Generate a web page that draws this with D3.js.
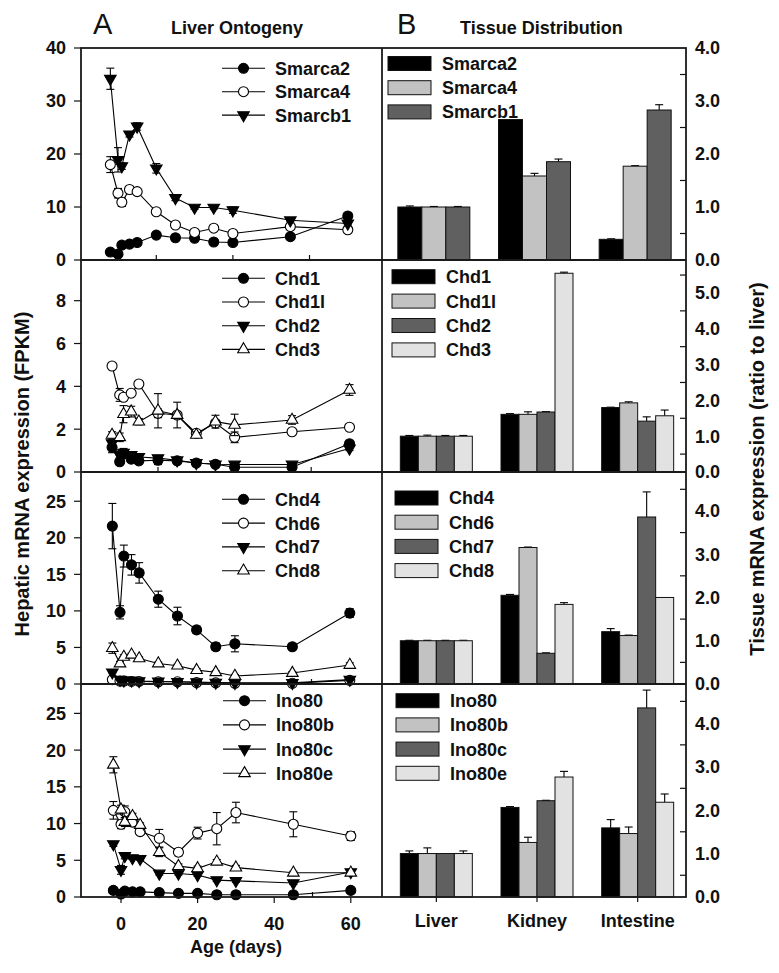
<!DOCTYPE html>
<html>
<head>
<meta charset="utf-8">
<script src="https://cdn.jsdelivr.net/npm/d3@7"></script>
<style>
  body { margin: 0; background: #fff; }
  text { font-family: Arial, "Liberation Sans", sans-serif; font-weight: bold; fill: #111; }
</style>
</head>
<body>
<div id="chart"></div>
<script>
// sampling days and tissues
const days = [-2, 0, 1, 3, 5, 10, 15, 20, 25, 30, 45, 60];
const tissues = ["Liver", "Kidney", "Intestine"];

// panel 1: SWI/SNF
const genes1 = ["Smarca2", "Smarca4", "Smarcb1"];
const ont1 = [
  [1.5, 1.1, 2.8, 3.0, 3.3, 4.7, 4.2, 4.1, 3.4, 3.3, 4.4, 8.3],
  [18.0, 12.6, 10.9, 13.3, 12.9, 9.1, 6.6, 5.2, 6.0, 5.0, 6.3, 5.7],
  [34.2, 18.9, 17.7, 23.7, 25.2, 17.3, 11.7, 9.9, 9.9, 9.4, 7.5, 6.9]
];
const ontErr1 = [
  [0.2, 0.2, 0.3, 0.2, 0.2, 0.4, 0.3, 0.3, 0.3, 0.3, 0.3, 0.5],
  [1.5, 0.9, 0.8, 0.3, 0.3, 0.5, 0.4, 0.3, 0.3, 0.3, 0.5, 0.4],
  [2.0, 2.3, 0.6, 0.5, 0.7, 0.9, 0.5, 0.3, 0.3, 0.6, 0.3, 0.3]
];
const tis1 = [[1.0, 2.65, 0.39], [1.0, 1.585, 1.77], [1.0, 1.855, 2.83]];
const tisErr1 = [[0.02, 0, 0.01], [0.01, 0.05, 0.01], [0.01, 0.05, 0.1]];

// panel 2: Chd1-3
const genes2 = ["Chd1", "Chd1l", "Chd2", "Chd3"];
const ont2 = [
  [1.15, 0.48, 0.85, 0.6, 0.52, 0.55, 0.52, 0.42, 0.36, 0.22, 0.22, 1.32],
  [4.95, 3.6, 3.49, 3.68, 4.11, 2.74, 2.66, 1.81, 2.28, 1.62, 1.88, 2.09],
  [1.35, 0.8, 0.9, 0.8, 0.7, 0.65, 0.55, 0.42, 0.36, 0.35, 0.35, 1.1],
  [1.73, 1.62, 2.7, 2.82, 2.35, 2.86, 2.66, 1.73, 2.35, 2.2, 2.43, 3.83]
];
const ontErr2 = [
  [0.25, 0.1, 0.2, 0.15, 0.1, 0.2, 0.1, 0.05, 0.05, 0.05, 0.05, 0.1],
  [0.1, 0.3, 0.15, 0.1, 0.1, 0.2, 0.1, 0.1, 0.1, 0.25, 0.1, 0.1],
  [0.15, 0.15, 0.2, 0.1, 0.1, 0.1, 0.05, 0.05, 0.05, 0.1, 0.05, 0.1],
  [0.15, 0.2, 0.4, 0.25, 0.15, 0.8, 0.6, 0.1, 0.3, 0.5, 0.2, 0.25]
];
const tis2 = [[1.0, 1.61, 1.80], [1.0, 1.61, 1.93], [1.0, 1.675, 1.42], [1.0, 5.55, 1.57]];
const tisErr2 = [[0.02, 0.02, 0.01], [0.03, 0.07, 0.03], [0.02, 0.01, 0.12], [0.02, 0.03, 0.16]];

// panel 3: Chd4-8
const genes3 = ["Chd4", "Chd6", "Chd7", "Chd8"];
const ont3 = [
  [21.6, 9.8, 17.5, 16.3, 15.2, 11.6, 9.3, 7.4, 5.1, 5.5, 5.1, 9.7],
  [0.6, 0.4, 0.4, 0.35, 0.35, 0.3, 0.3, 0.2, 0.15, 0.1, 0.1, 0.5],
  [1.6, 0.6, 0.5, 0.5, 0.4, 0.35, 0.3, 0.25, 0.2, 0.15, 0.15, 0.6],
  [4.9, 2.8, 3.7, 4.0, 3.5, 2.8, 2.5, 1.9, 1.6, 1.1, 1.5, 2.6]
];
const ontErr3 = [
  [3.1, 0.9, 1.5, 1.4, 1.4, 1.1, 1.2, 0.5, 0.5, 1.1, 0.3, 0.6],
  [0.05, 0.05, 0.05, 0.05, 0.05, 0.05, 0.05, 0.05, 0.05, 0.05, 0.05, 0.1],
  [0.1, 0.1, 0.1, 0.1, 0.1, 0.1, 0.1, 0.1, 0.1, 0.1, 0.1, 0.1],
  [0.7, 0.3, 0.3, 0.2, 0.2, 0.2, 0.2, 0.2, 0.2, 0.2, 0.2, 0.3]
];
const tis3 = [[1.0, 2.05, 1.21], [1.0, 3.155, 1.12], [1.0, 0.71, 3.86], [1.0, 1.84, 2.0]];
const tisErr3 = [[0.01, 0.02, 0.07], [0.01, 0.01, 0.01], [0.01, 0.01, 0.58], [0.01, 0.04, 0]];

// panel 4: Ino80
const genes4 = ["Ino80", "Ino80b", "Ino80c", "Ino80e"];
const ont4 = [
  [0.9, 0.4, 0.8, 0.7, 0.7, 0.6, 0.5, 0.5, 0.3, 0.3, 0.3, 0.9],
  [11.8, 9.9, 11.6, 10.2, 8.9, 8.0, 6.1, 8.7, 9.3, 11.5, 9.9, 8.3],
  [7.2, 3.7, 5.6, 5.3, 5.2, 3.2, 3.2, 3.0, 2.3, 2.2, 1.9, 3.4],
  [18.0, 11.9, 10.2, 11.0, 9.8, 6.1, 4.2, 3.9, 4.8, 4.0, 3.3, 3.3]
];
const ontErr4 = [
  [0.1, 0.1, 0.1, 0.1, 0.1, 0.1, 0.1, 0.1, 0.1, 0.1, 0.1, 0.1],
  [1.2, 0.6, 0.8, 0.6, 0.4, 1.2, 0.5, 0.8, 2.2, 1.4, 1.7, 0.6],
  [0.3, 0.6, 0.4, 0.2, 0.2, 0.2, 0.2, 0.2, 0.2, 0.2, 0.2, 0.2],
  [1.1, 0.6, 0.6, 0.4, 0.3, 0.6, 0.3, 0.3, 0.3, 0.3, 0.2, 0.3]
];
const tis4 = [[1.0, 2.06, 1.59], [1.0, 1.255, 1.46], [1.0, 2.215, 4.35], [1.0, 2.76, 2.18]];
const tisErr4 = [[0.06, 0.02, 0.19], [0.13, 0.12, 0.15], [0, 0.01, 0.41], [0.06, 0.13, 0.19]];

// axis ranges per panel
const leftMax = [40, 9.9, 29, 29];
const leftStep = [10, 2, 5, 5];
const leftLast = [40, 8, 25, 25];
const rightMax = [4, 5.92, 4.9, 4.9];
const rightLast = [4, 5, 4, 4];

const panels = [
  { genes: genes1, ont: ont1, ontErr: ontErr1, tis: tis1, tisErr: tisErr1 },
  { genes: genes2, ont: ont2, ontErr: ontErr2, tis: tis2, tisErr: tisErr2 },
  { genes: genes3, ont: ont3, ontErr: ontErr3, tis: tis3, tisErr: tisErr3 },
  { genes: genes4, ont: ont4, ontErr: ontErr4, tis: tis4, tisErr: tisErr4 }
];

var width = 779, height = 973;
var L = 81, M = 382, R = 686;
var tops = [48, 260, 472, 684], bottom = 897;
var dayZero = [118, 119.7, 120, 121];   // small per-panel offsets of the original subplots
var pxDay = 3.83;
var barShift = [-2.5, 0, 0, 0];
var legLeft = [[68.3, 23.4, 222], [278.3, 23.7, 222], [499.3, 23.8, 222], [700.7, 24.2, 223]];
var legRight = [[63.5, 24.2, 388], [276.7, 24.4, 392], [498, 24.2, 395], [700.7, 24.2, 396]];
var barFill = ["#000000", "#c2c2c2", "#606060", "#e2e2e2"];

var svg = d3.select("#chart").append("svg")
  .attr("width", width)
  .attr("height", height);
svg.append("rect").attr("width", width).attr("height", height).attr("fill", "#fff");

function marker(g, k, cx, cy) {
  if (k < 2) {
    g.append("circle").attr("cx", cx).attr("cy", cy).attr("r", 5)
      .attr("fill", k == 0 ? "#000" : "#fff").attr("stroke", "#000").attr("stroke-width", 1.1);
  } else {
    g.append("path")
      .attr("d", d3.symbol(d3.symbolTriangle, 58)())
      .attr("transform", "translate(" + cx + "," + cy + ")" + (k == 2 ? " rotate(180)" : ""))
      .attr("fill", k == 2 ? "#000" : "#fff").attr("stroke", "#000").attr("stroke-width", 1.1);
  }
}

panels.forEach(function (p, pi) {
  var y0 = tops[pi], y1 = pi < 3 ? tops[pi + 1] : bottom;
  var last = pi == 3;

  // ---------- left: ontogeny ----------
  var x = d3.scaleLinear().domain([-10, 70])
    .range([dayZero[pi] - 10 * pxDay, dayZero[pi] + 70 * pxDay]);
  var y = d3.scaleLinear().domain([0, leftMax[pi]]).range([y1, y0]);
  var gl = svg.append("g");

  // minor ticks inside
  [10, 30, 50].forEach(function (d) {
    gl.append("line").attr("x1", x(d)).attr("x2", x(d)).attr("y1", y1).attr("y2", y1 - 5)
      .attr("stroke", "#111").attr("stroke-width", 1.2);
  });
  if (last) {
    [0, 20, 40, 60].forEach(function (d) {
      gl.append("line").attr("x1", x(d)).attr("x2", x(d)).attr("y1", y1).attr("y2", y1 + 6)
        .attr("stroke", "#111").attr("stroke-width", 1.2);
      gl.append("text").attr("x", x(d)).attr("y", 930).attr("text-anchor", "middle")
        .style("font-size", "18px").text(d);
    });
  }
  d3.range(0, leftLast[pi] + 0.001, leftStep[pi]).forEach(function (v) {
    gl.append("line").attr("x1", L - 7).attr("x2", L).attr("y1", y(v)).attr("y2", y(v))
      .attr("stroke", "#111").attr("stroke-width", 1.2);
    gl.append("text").attr("x", 66).attr("y", y(v)).attr("dy", "0.36em")
      .attr("text-anchor", "end").style("font-size", "18px").text(v);
  });

  var line = d3.line().x(function (d, i) { return x(days[i]); }).y(function (d) { return y(d); });
  p.ont.forEach(function (vals, k) {
    var g = gl.append("g");
    g.append("path").attr("d", line(vals)).attr("fill", "none")
      .attr("stroke", "#000").attr("stroke-width", 1.1);
    vals.forEach(function (v, i) {
      var e = p.ontErr[k][i], cx = x(days[i]);
      g.append("line").attr("x1", cx).attr("x2", cx).attr("y1", y(v - e)).attr("y2", y(v + e))
        .attr("stroke", "#000").attr("stroke-width", 1.1);
      [v - e, v + e].forEach(function (w) {
        g.append("line").attr("x1", cx - 4).attr("x2", cx + 4).attr("y1", y(w)).attr("y2", y(w))
          .attr("stroke", "#000").attr("stroke-width", 1.1);
      });
    });
    vals.forEach(function (v, i) { marker(g, k, x(days[i]), y(v)); });
  });

  // left legend
  p.genes.forEach(function (name, k) {
    var ly = legLeft[pi][0] + k * legLeft[pi][1], lx = legLeft[pi][2];
    gl.append("line").attr("x1", lx).attr("x2", lx + 43).attr("y1", ly).attr("y2", ly)
      .attr("stroke", "#000").attr("stroke-width", 1.1);
    marker(gl, k, lx + 21.5, ly);
    gl.append("text").attr("x", lx + 53).attr("y", ly).attr("dy", "0.36em")
      .style("font-size", "18px").text(name);
  });

  // ---------- right: tissue distribution ----------
  var yr = d3.scaleLinear().domain([0, rightMax[pi]]).range([y1, y0]);
  var xb = d3.scaleBand().domain(tissues).range([386 + barShift[pi], 688 + barShift[pi]]);
  var sub = d3.scaleBand().domain(p.genes).range([-36, 36]);
  var gr = svg.append("g");

  d3.range(0.5, rightMax[pi], 1).forEach(function (v) {
    gr.append("line").attr("x1", R - 6).attr("x2", R).attr("y1", yr(v)).attr("y2", yr(v))
      .attr("stroke", "#111").attr("stroke-width", 1.2);
  });
  d3.range(0, rightLast[pi] + 0.001, 1).forEach(function (v) {
    gr.append("text").attr("x", R + 9).attr("y", yr(v)).attr("dy", "0.36em")
      .style("font-size", "18px").text(d3.format(".1f")(v));
  });
  if (last) {
    tissues.forEach(function (t) {
      var cx = xb(t) + xb.bandwidth() / 2;
      gr.append("line").attr("x1", cx).attr("x2", cx).attr("y1", y1).attr("y2", y1 + 5)
        .attr("stroke", "#111").attr("stroke-width", 1.2);
      gr.append("text").attr("x", cx).attr("y", 927).attr("text-anchor", "middle")
        .style("font-size", "18px").text(t);
    });
  }

  p.genes.forEach(function (name, k) {
    tissues.forEach(function (t, j) {
      var v = p.tis[k][j], e = p.tisErr[k][j];
      var bx = xb(t) + xb.bandwidth() / 2 + sub(name);
      var cx = bx + sub.bandwidth() / 2;
      if (e > 0) {
        gr.append("line").attr("x1", cx).attr("x2", cx).attr("y1", yr(v)).attr("y2", yr(v + e))
          .attr("stroke", "#000").attr("stroke-width", 1.1);
        gr.append("line").attr("x1", cx - 4).attr("x2", cx + 4).attr("y1", yr(v + e)).attr("y2", yr(v + e))
          .attr("stroke", "#000").attr("stroke-width", 1.1);
      }
      gr.append("rect").attr("x", bx).attr("y", yr(v))
        .attr("width", sub.bandwidth()).attr("height", y1 - yr(v))
        .attr("fill", barFill[k]).attr("stroke", "#111").attr("stroke-width", 1);
    });
  });

  // right legend
  p.genes.forEach(function (name, k) {
    var ly = legRight[pi][0] + k * legRight[pi][1], lx = legRight[pi][2];
    gr.append("rect").attr("x", lx).attr("y", ly - 7).attr("width", 43).attr("height", 14)
      .attr("fill", barFill[k]).attr("stroke", "#111").attr("stroke-width", 1);
    gr.append("text").attr("x", lx + 54).attr("y", ly).attr("dy", "0.36em")
      .style("font-size", "18px").text(name);
  });
});

// frame
var frame = svg.append("g").attr("fill", "none").attr("stroke", "#1a1a1a").attr("stroke-width", 1.8);
frame.append("rect").attr("x", L).attr("y", tops[0]).attr("width", R - L).attr("height", bottom - tops[0]);
frame.append("line").attr("x1", M).attr("x2", M).attr("y1", tops[0]).attr("y2", bottom);
tops.slice(1).forEach(function (t) {
  frame.append("line").attr("x1", L).attr("x2", R).attr("y1", t).attr("y2", t);
});

// titles and axis labels
svg.append("text").attr("x", 93).attr("y", 34).style("font-size", "29px").style("font-weight", "normal").text("A");
svg.append("text").attr("x", 171).attr("y", 34).style("font-size", "18px").text("Liver Ontogeny");
svg.append("text").attr("x", 397).attr("y", 34).style("font-size", "29px").style("font-weight", "normal").text("B");
svg.append("text").attr("x", 460).attr("y", 34).style("font-size", "18px").text("Tissue Distribution");
svg.append("text").attr("x", 236).attr("y", 953).attr("text-anchor", "middle")
  .style("font-size", "18px").text("Age (days)");
svg.append("text").attr("transform", "translate(22,474) rotate(-90)").attr("text-anchor", "middle")
  .attr("dy", "0.36em").style("font-size", "20px").text("Hepatic mRNA expression (FPKM)");
svg.append("text").attr("transform", "translate(757,469) rotate(-90)").attr("text-anchor", "middle")
  .attr("dy", "0.36em").style("font-size", "20px").text("Tissue mRNA expression (ratio to liver)");
</script>
</body>
</html>
